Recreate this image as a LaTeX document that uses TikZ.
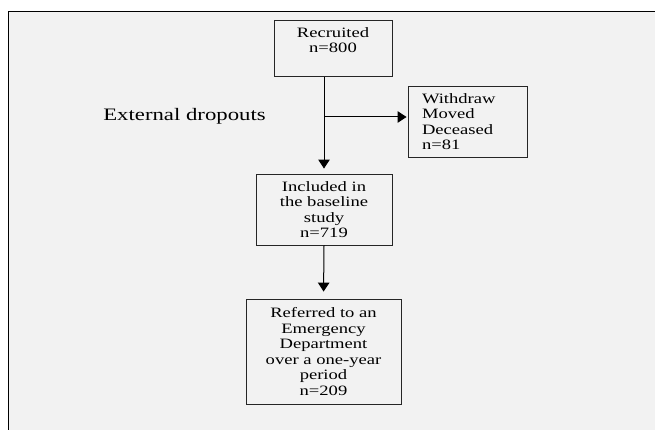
\documentclass[tikz,border=0pt]{standalone}
\usepackage{fontspec}
\setmainfont{Liberation Serif}[FakeStretch=1.3]
\usetikzlibrary{arrows.meta}

\begin{document}
\begin{tikzpicture}[x=1pt,y=-1pt,
  boxstyle/.style={draw=black!85,line width=0.9pt,align=center,inner sep=3pt,
    font=\fontsize{14.3}{15.5}\selectfont},
  flowarrow/.style={draw=black,line width=1pt,-{Triangle[width=11.5pt,length=9pt]}}]
 \useasboundingbox (0,0) rectangle (655,430);
 \fill[white] (0,0) rectangle (655,430);
 \fill[black!5] (8.3,11.3) rectangle (655,430);
 \draw[line width=1.2pt] (8.3,430) -- (8.3,11.3) -- (655,11.3);

 \node [boxstyle,anchor=north,minimum width=118pt,inner ysep=7pt,text depth=17pt] (rec) at (333,20) {Recruited\\n=800};
 \node [boxstyle,align=left,inner xsep=14pt,text width=91pt,minimum height=71pt] (wdr) at (467.5,121.5) {Withdraw\\Moved\\Deceased\\n=81};
 \node [boxstyle,minimum width=136pt,minimum height=71pt] (inc) at (324,209.5) {Included in\\the baseline\\study\\n=719};
 \node [boxstyle,minimum width=155pt,minimum height=105pt] (ref) at (323.5,351.5) {Referred to an\\Emergency\\Department\\over a one-year\\period\\n=209};
 \node [font=\fontsize{17.5}{19}\selectfont] (ext) at (184.5,116) {External dropouts};

 \coordinate (split) at (324.6,117);
 \draw [flowarrow,shorten >=5pt] (rec.south -| inc.north) -- (inc.north);
 \draw [flowarrow,shorten >=1pt] (split) -- (split -| wdr.west);
 \draw [flowarrow,shorten >=7pt] (inc.south) -- (ref.north);
\end{tikzpicture}
\end{document}
